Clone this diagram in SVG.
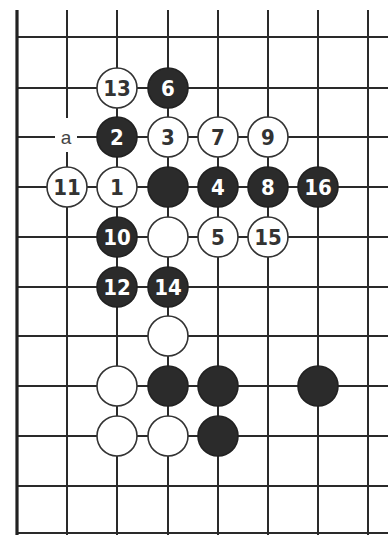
<svg xmlns="http://www.w3.org/2000/svg" width="388" height="535" viewBox="0 0 388 535">
<style>
.ln{stroke:#2a2a2a;stroke-width:2;fill:none}
.edge{stroke:#222;stroke-width:3.2;fill:none}
.w{fill:#fff;stroke:#333;stroke-width:1.6}
.b{fill:#2b2b2b;stroke:#222;stroke-width:1.6}
.tw,.tb{font-family:"Liberation Sans Narrow","DejaVu Sans Condensed","Liberation Sans",Arial,sans-serif;font-size:22px;font-weight:bold;text-anchor:middle;dominant-baseline:central}
.tw{fill:#333}
.tb{fill:#fff}
.ta{font-family:"Liberation Sans",Arial,sans-serif;font-size:19px;fill:#444;text-anchor:middle;dominant-baseline:central}
</style>
<rect width="388" height="535" fill="#fff"/>
<g id="grid">
<path class="ln" d="M67 10V535M117 10V535M168 10V535M218 10V535M268 10V535M318 10V535M368 10V535"/>
<path class="ln" d="M17 37H388M17 88H388M17 137H388M17 187H388M17 237H388M17 287H388M17 336H388M17 386H388M17 436H388M17 486H388M17 533H388"/>
<path class="edge" d="M17 10V535"/>
</g>
<g id="label-a"><rect x="55" y="118" width="22" height="34" fill="#fff"/><text class="ta" x="66" y="137">a</text></g>
<g id="s13"><circle class="w" cx="117" cy="88" r="20"/><text class="tw" x="117" y="88">13</text></g>
<g id="s6"><circle class="b" cx="168" cy="88" r="20"/><text class="tb" x="168" y="88">6</text></g>
<g id="s2"><circle class="b" cx="117" cy="137" r="20"/><text class="tb" x="117" y="137">2</text></g>
<g id="s3"><circle class="w" cx="168" cy="137" r="20"/><text class="tw" x="168" y="137">3</text></g>
<g id="s7"><circle class="w" cx="218" cy="137" r="20"/><text class="tw" x="218" y="137">7</text></g>
<g id="s9"><circle class="w" cx="268" cy="137" r="20"/><text class="tw" x="268" y="137">9</text></g>
<g id="s11"><circle class="w" cx="67" cy="187" r="20"/><text class="tw" x="67" y="187">11</text></g>
<g id="s1"><circle class="w" cx="117" cy="187" r="20"/><text class="tw" x="117" y="187">1</text></g>
<g id="b-c6"><circle class="b" cx="168" cy="187" r="20"/></g>
<g id="s4"><circle class="b" cx="218" cy="187" r="20"/><text class="tb" x="218" y="187">4</text></g>
<g id="s8"><circle class="b" cx="268" cy="187" r="20"/><text class="tb" x="268" y="187">8</text></g>
<g id="s16"><circle class="b" cx="318" cy="187" r="20"/><text class="tb" x="318" y="187">16</text></g>
<g id="s10"><circle class="b" cx="117" cy="237" r="20"/><text class="tb" x="117" y="237">10</text></g>
<g id="w-d7"><circle class="w" cx="168" cy="237" r="20"/></g>
<g id="s5"><circle class="w" cx="218" cy="237" r="20"/><text class="tw" x="218" y="237">5</text></g>
<g id="s15"><circle class="w" cx="268" cy="237" r="20"/><text class="tw" x="268" y="237">15</text></g>
<g id="s12"><circle class="b" cx="117" cy="287" r="20"/><text class="tb" x="117" y="287">12</text></g>
<g id="s14"><circle class="b" cx="168" cy="287" r="20"/><text class="tb" x="168" y="287">14</text></g>
<g id="w-f9"><circle class="w" cx="168" cy="336" r="20"/></g>
<g id="w-g10"><circle class="w" cx="117" cy="386" r="20"/></g>
<g id="b-g11"><circle class="b" cx="168" cy="386" r="20"/></g>
<g id="b-g12"><circle class="b" cx="218" cy="386" r="20"/></g>
<g id="b-g14"><circle class="b" cx="318" cy="386" r="20"/></g>
<g id="w-h10"><circle class="w" cx="117" cy="436" r="20"/></g>
<g id="w-h11"><circle class="w" cx="168" cy="436" r="20"/></g>
<g id="b-h12"><circle class="b" cx="218" cy="436" r="20"/></g>
</svg>
